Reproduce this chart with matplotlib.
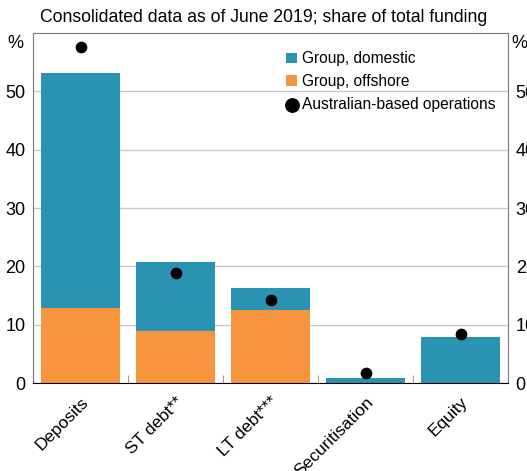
import matplotlib
matplotlib.use("Agg")
import matplotlib.pyplot as plt
import numpy as np

plt.rcParams['font.family'] = ['Liberation Sans', 'DejaVu Sans']

categories = ["Deposits", "ST debt**", "LT debt***", "Securitisation", "Equity"]
offshore = [12.8, 8.9, 12.5, 0.0, 0.0]
total = [53.1, 20.7, 16.3, 0.9, 7.9]
domestic = [t - o for t, o in zip(total, offshore)]
australian = [57.6, 18.8, 14.2, 1.7, 8.4]
yticks = [0, 10, 20, 30, 40, 50]

c_dom = "#2A93B3"
c_off = "#F7953F"

fig = plt.figure(figsize=(5.27, 4.71), dpi=100)
ax = fig.add_axes([33/527, 1-383/471, 475/527, 350/471])
x = np.arange(len(categories))
b_off = ax.bar(x, offshore, width=0.84, color=c_off, zorder=2)
b_dom = ax.bar(x, domestic, bottom=offshore, width=0.84, color=c_dom, zorder=2)
sc = ax.scatter(x, australian, s=55, color="black", zorder=3)

ax.set_xlim(-0.5, len(categories) - 0.5)
ax.set_ylim(0, 60)
ax.set_yticks(yticks)
ax.grid(axis="y", color="#c8c8c8", linewidth=1, zorder=0)
ax.set_axisbelow(True)

ax.set_xticks(x)
ax.set_xticklabels(categories, rotation=45, ha="right", va="top", rotation_mode="anchor", fontsize=12.5)
ax.tick_params(axis="x", length=0, pad=8)
ax.set_xticks(np.arange(len(categories) - 1) + 0.5, minor=True)
ax.tick_params(axis="x", which="minor", direction="in", length=6, color="#888888")

ax.tick_params(axis="y", left=False, right=False, labelleft=True, labelright=True, labelsize=13, pad=2)
for s in ["left", "right", "top"]:
    ax.spines[s].set_color("#777777")
ax.spines["bottom"].set_color("black")

fig.text(15/527, 1-43/471, "%", fontsize=13, ha="center", va="center")
fig.text(519/527, 1-43/471, "%", fontsize=13, ha="center", va="center")
fig.text(0.5, 1-18/471, "Consolidated data as of June 2019; share of total funding",
         fontsize=12.7, ha="center", va="center")

leg = ax.legend([b_dom, b_off, sc], ["Group, domestic", "Group, offshore", "Australian-based operations"],
                loc="upper left", bbox_to_anchor=(0.52, 0.965), frameon=False, fontsize=11.2,
                handlelength=0.7, handletextpad=0.3, labelspacing=0.5, borderaxespad=0,
                markerscale=1.3)

fig.savefig("out.png", dpi=100)
